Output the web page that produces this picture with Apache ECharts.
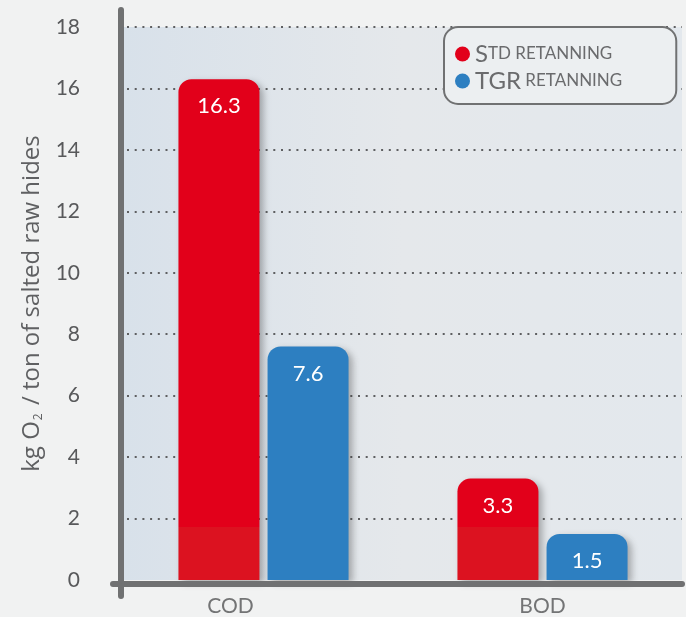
<!DOCTYPE html>
<html>
<head>
<meta charset="utf-8">
<script src="https://cdn.jsdelivr.net/npm/echarts@6/dist/echarts.min.js"></script>
<style>
  html, body { margin: 0; padding: 0; background: #f1f2f2; }
  #chart { width: 686px; height: 617px; }
</style>
</head>
<body>
<div id="chart"></div>
<script>
// Oxygen demand per ton of salted raw hides, by retanning process
const categories = ['COD', 'BOD'];
const seriesNames = ['Std retanning', 'TGR retanning'];
const stdValues = [16.3, 3.3];
const tgrValues = [7.6, 1.5];
const yTicks = [0, 2, 4, 6, 8, 10, 12, 14, 16, 18];

const RED = '#e2001a';
const RED_LOW = '#dc1220';
const BLUE = '#2d7fc1';
const AXIS = '#707172';
const FONT = 'Lato, "Open Sans", sans-serif';
const TITLE_FONT = '"Open Sans", Lato, sans-serif';

// plot frame
const G = { left: 124, top: 27, right: 4, bottom: 36 };
const W = 686, H = 617;
const baseY = H - G.bottom;

const chart = echarts.init(document.getElementById('chart'), null, { renderer: 'canvas' });

const redFill = new echarts.graphic.LinearGradient(0, 0, 0, H, [
  { offset: 0, color: RED },
  { offset: 527 / H, color: RED },
  { offset: 527 / H, color: RED_LOW },
  { offset: 1, color: RED_LOW }
], true);

const barShadow = {
  shadowColor: 'rgba(40,40,40,0.35)',
  shadowBlur: 7,
  shadowOffsetX: 4,
  shadowOffsetY: 3
};

const valueLabel = {
  show: true,
  position: 'insideTop',
  distance: 16,
  color: '#ffffff',
  fontSize: 22,
  fontFamily: FONT
};

chart.setOption({
  backgroundColor: '#f1f2f2',
  animation: false,
  grid: {
    left: G.left, top: G.top, right: G.right, bottom: G.bottom,
    show: true,
    borderWidth: 0,
    backgroundColor: new echarts.graphic.LinearGradient(0, 0, 1, 0, [
      { offset: 0, color: '#d8e1ea' },
      { offset: 0.5, color: '#e5e8eb' },
      { offset: 1, color: '#e3e8ed' }
    ])
  },
  legend: {
    orient: 'vertical',
    left: 444,
    top: 27,
    padding: [15, 54, 11, 11],
    itemGap: 3,
    itemWidth: 15,
    itemHeight: 15,
    icon: 'circle',
    borderColor: AXIS,
    borderWidth: 2,
    borderRadius: 14,
    backgroundColor: '#eceff1',
    data: seriesNames,
    formatter: function (name) {
      return name === seriesNames[0]
        ? '{b|S}{s|TD RETANNING}'
        : '{b|TGR}{s| RETANNING}';
    },
    textStyle: {
      color: '#6a6b6d',
      fontFamily: FONT,
      rich: {
        b: { fontSize: 24, fontFamily: FONT, color: '#6a6b6d' },
        s: { fontSize: 17, fontFamily: FONT, color: '#6a6b6d' }
      }
    }
  },
  xAxis: {
    type: 'category',
    data: categories,
    axisLine: { show: false },
    axisTick: { show: false },
    axisLabel: {
      margin: 16,
      color: '#737475',
      fontSize: 20,
      fontFamily: FONT,
      formatter: function (v) {
        return v === 'COD' ? '{l|' + v + '}' : '{n|' + v + '}';
      },
      rich: {
        l: { fontSize: 21, fontFamily: FONT, color: '#737475', padding: [0, 66, 0, 0] },
        n: { fontSize: 21, fontFamily: FONT, color: '#737475' }
      }
    }
  },
  yAxis: {
    type: 'value',
    min: yTicks[0],
    max: yTicks[yTicks.length - 1],
    interval: 2,
    name: '{a|kg O}{s|2}{a| / ton of salted raw hides}',
    nameLocation: 'middle',
    nameGap: 76,
    nameTextStyle: {
      rich: {
        a: { fontSize: 24, fontFamily: TITLE_FONT, color: '#5f6062' },
        s: { fontSize: 12, fontFamily: TITLE_FONT, color: '#5f6062', padding: [14, 2, 0, 1] }
      }
    },
    axisLine: { show: false },
    axisTick: { show: false },
    axisLabel: {
      margin: 44,
      color: '#58595b',
      fontSize: 21,
      fontFamily: FONT
    },
    splitLine: {
      show: true,
      showMinLine: false,
      lineStyle: { color: '#5e5f61', width: 2, type: [2, 5.7], dashOffset: -3 }
    }
  },
  series: [
    {
      name: seriesNames[0],
      type: 'bar',
      data: stdValues,
      barWidth: 81,
      barGap: '10%',
      itemStyle: Object.assign({ color: redFill, borderRadius: [13, 13, 0, 0] }, barShadow),
      label: valueLabel
    },
    {
      name: seriesNames[1],
      type: 'bar',
      data: tgrValues,
      barWidth: 81,
      itemStyle: Object.assign({ color: BLUE, borderRadius: [13, 13, 0, 0] }, barShadow),
      label: valueLabel
    }
  ],
  graphic: [
    {
      type: 'line',
      z: 100,
      shape: { x1: G.left - 3, y1: 10, x2: G.left - 3, y2: baseY + 15 },
      style: { stroke: AXIS, lineWidth: 6, lineCap: 'round' }
    },
    {
      type: 'line',
      z: 100,
      shape: { x1: G.left - 11, y1: baseY + 3, x2: W - G.right, y2: baseY + 3 },
      style: { stroke: AXIS, lineWidth: 6, lineCap: 'round' }
    }
  ],
  // legend swatch colours
  color: [RED, BLUE]
});
</script>
</body>
</html>
